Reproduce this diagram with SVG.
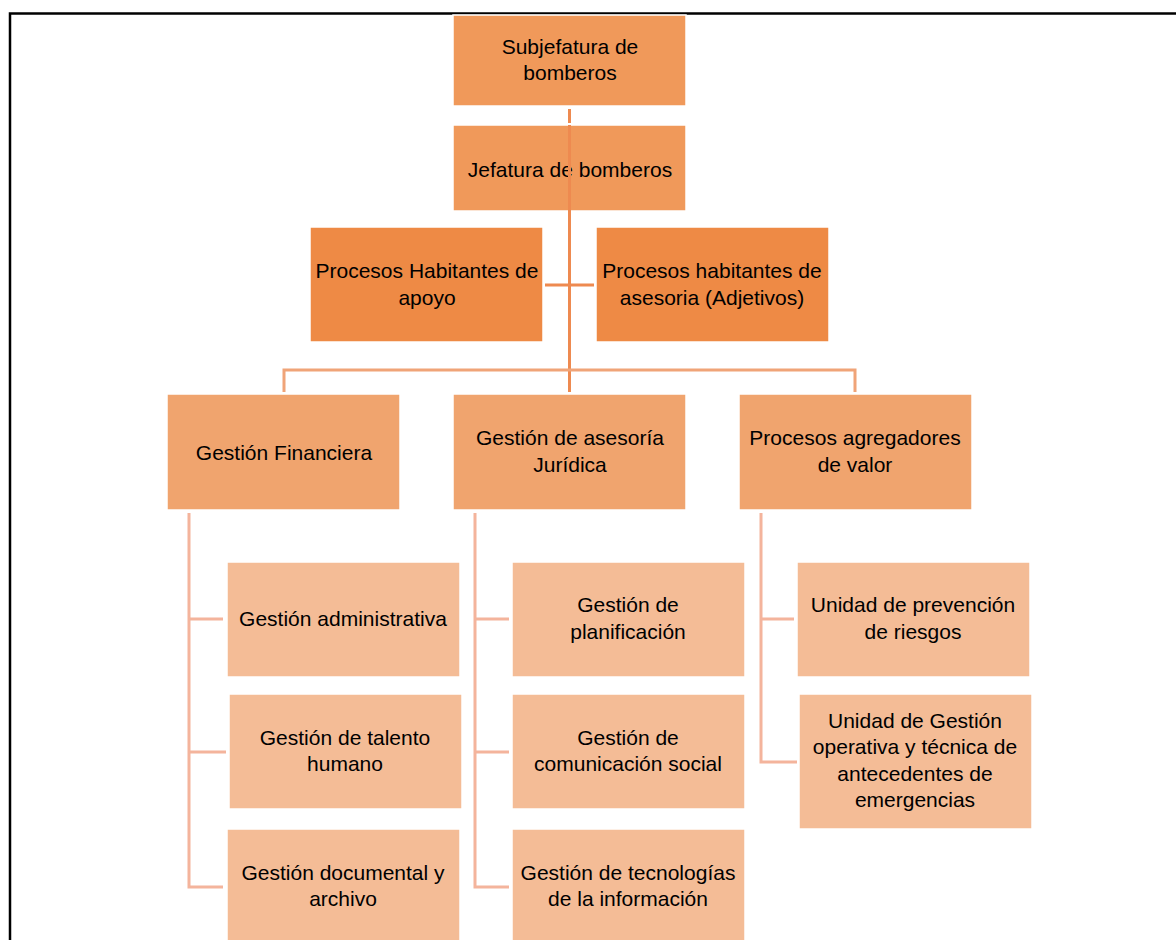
<svg xmlns="http://www.w3.org/2000/svg" width="1176" height="940" viewBox="0 0 1176 940">
<style>
  text { font-family: "Liberation Sans", Arial, sans-serif; font-size: 21px; fill: #000; text-anchor: middle; }
  .b { stroke: #ffffff; stroke-width: 1.5; }
  .top { fill: #F0995A; }
  .side { fill: #EE8A45; }
  .mid { fill: #F0A46E; }
  .sub { fill: #F4BC96; }
  .c1 { stroke: #EE8A50; stroke-width: 3; fill: none; }
  .c2 { stroke: #F0A478; stroke-width: 3; fill: none; }
  .c3 { stroke: #F4B49C; stroke-width: 3; fill: none; }
</style>
<rect x="0" y="0" width="1176" height="940" fill="#ffffff"/>
<path d="M10 940 V13.5 H1176" fill="none" stroke="#000" stroke-width="2.5"/>

<g id="n_subjefatura"><rect class="b top" x="453" y="15" width="233" height="91"/><text x="570" y="54">Subjefatura de</text><text x="570" y="80">bomberos</text></g>
<g id="n_jefatura"><rect class="b top" x="453" y="125" width="233" height="86"/><text x="570" y="177">Jefatura de bomberos</text></g>
<g id="n_apoyo"><rect class="b side" x="310" y="227" width="233" height="115"/><text x="427" y="278">Procesos Habitantes de</text><text x="427" y="305">apoyo</text></g>
<g id="n_asesoria"><rect class="b side" x="596" y="227" width="233" height="115"/><text x="712" y="278">Procesos habitantes de</text><text x="712" y="305">asesoria (Adjetivos)</text></g>
<g id="n_financiera"><rect class="b mid" x="167" y="394" width="233" height="116"/><text x="284" y="460">Gestión Financiera</text></g>
<g id="n_juridica"><rect class="b mid" x="453" y="394" width="233" height="116"/><text x="570" y="445">Gestión de asesoría</text><text x="570" y="472">Jurídica</text></g>
<g id="n_agregadores"><rect class="b mid" x="739" y="394" width="233" height="116"/><text x="855" y="445">Procesos agregadores</text><text x="855" y="472">de valor</text></g>

<g id="n_administrativa"><rect class="b sub" x="227" y="562" width="233" height="115"/><text x="343" y="626">Gestión administrativa</text></g>
<g id="n_talento"><rect class="b sub" x="229" y="694" width="233" height="115"/><text x="345" y="745">Gestión de talento</text><text x="345" y="771">humano</text></g>
<g id="n_documental"><rect class="b sub" x="227" y="829" width="233" height="115"/><text x="343" y="880">Gestión documental y</text><text x="343" y="906">archivo</text></g>
<g id="n_planificacion"><rect class="b sub" x="512" y="562" width="233" height="115"/><text x="628" y="612">Gestión de</text><text x="628" y="639">planificación</text></g>
<g id="n_comunicacion"><rect class="b sub" x="512" y="694" width="233" height="115"/><text x="628" y="745">Gestión de</text><text x="628" y="771">comunicación social</text></g>
<g id="n_tecnologias"><rect class="b sub" x="512" y="829" width="233" height="115"/><text x="628" y="880">Gestión de tecnologías</text><text x="628" y="906">de la información</text></g>
<g id="n_prevencion"><rect class="b sub" x="797" y="562" width="233" height="115"/><text x="913" y="612">Unidad de prevención</text><text x="913" y="639">de riesgos</text></g>
<g id="n_operativa"><rect class="b sub" x="799" y="694" width="233" height="135"/><text x="915" y="728">Unidad de Gestión</text><text x="915" y="754">operativa y técnica de</text><text x="915" y="781">antecedentes de</text><text x="915" y="807">emergencias</text></g>

<g id="connectors">
  <path class="c1" d="M569.5 109 V123"/>
  <path class="c1" d="M569.5 211 V392"/>
  <path class="c1" d="M569.5 125 V211" stroke="#EC8540"/>
  <path class="c1" d="M545 285 H594"/>
  <path class="c2" d="M284 392 V370 H855 V392"/>
  <path class="c3" d="M189 513 V887 H223 M189 619 H223 M189 752 H226"/>
  <path class="c3" d="M475 513 V887 H509 M475 619 H509 M475 752 H509"/>
  <path class="c3" d="M761 513 V762 H797 M761 619 H794"/>
</g>
</svg>
